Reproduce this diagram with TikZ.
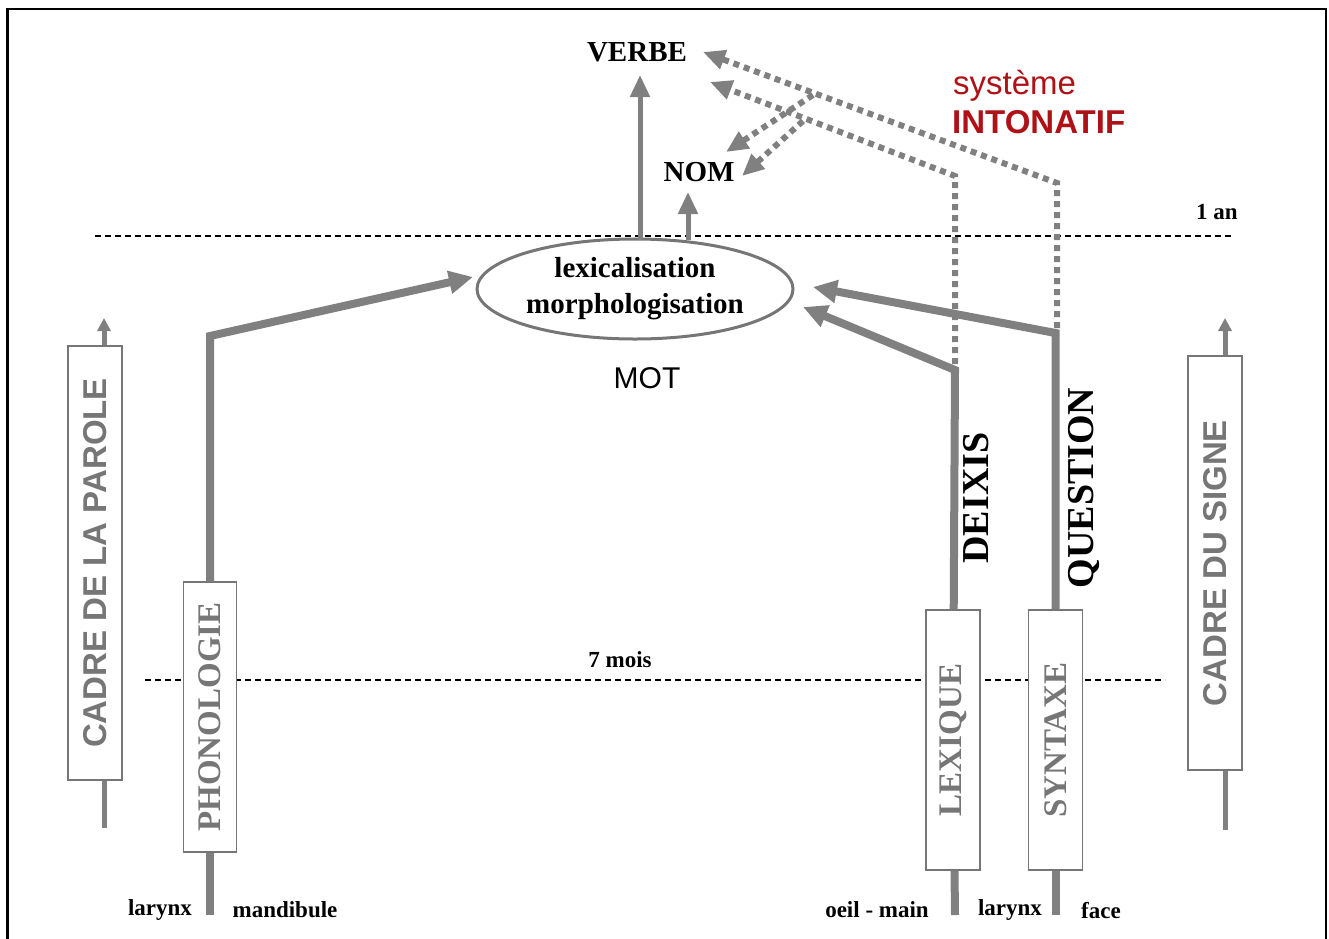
\documentclass[tikz,border=0pt]{standalone}
\usepackage{fontspec}
\setmainfont{Liberation Serif}
\newfontfamily\arialf{Liberation Sans}
\usetikzlibrary{arrows.meta,shapes.geometric,calc}
\definecolor{lgray}{RGB}{128,128,128}
\definecolor{bgray}{RGB}{118,118,118}
\definecolor{intred}{RGB}{175,18,22}
\begin{document}
\begin{tikzpicture}[x=1pt,y=-1pt,
  vbox/.style={draw=bgray, line width=1.5pt, fill=white, rotate=90, inner sep=0pt,
    text=bgray, font=\fontsize{33}{33}\selectfont\bfseries},
  cbox/.style={draw=bgray, line width=1.5pt, fill=white, rotate=90, inner sep=0pt,
    text=bgray, font=\arialf\fontsize{33}{33}\selectfont\bfseries},
  thickln/.style={draw=lgray, line width=8pt},
  thinln/.style={draw=lgray, line width=5pt},
  dotln/.style={draw=lgray, line width=6pt, dash pattern=on 6pt off 5pt},
  bigtip/.style={-{Triangle[length=24pt,width=22pt]}},
  midtip/.style={-{Triangle[length=22pt,width=19pt]}},
  smalltip/.style={-{Triangle[length=13pt,width=13pt]}},
  dashln/.style={draw=black, line width=1.1pt, dash pattern=on 6pt off 4pt},
  lbl/.style={font=\fontsize{23}{23}\selectfont\bfseries, inner sep=0pt},
  bigword/.style={font=\fontsize{29}{29}\selectfont\bfseries, inner sep=0pt},
  sidelbl/.style={rotate=90, anchor=base, inner sep=0pt, font=\fontsize{38}{38}\selectfont\bfseries},
  redtxt/.style={text=intred, anchor=west, inner sep=0pt}
]
\useasboundingbox (0,0) rectangle (1329,938);
\fill[white] (0,0) rectangle (1329,938);
% frame
\draw[line width=2.5pt] (7.5,9) rectangle (1326,970);

% dashed time lines
\coordinate (d1a) at (95,236);  \coordinate (d1b) at (1232,236);
\coordinate (d2a) at (145,680); \coordinate (d2b) at (1165,680);
\draw[dashln] (d1a) -- (d1b);
\draw[dashln] (d2a) -- (d2b);
\node[lbl] (an) at (1217,212) {1 an};
\node[lbl] (mois) at (620,660) {7 mois};

% central ellipse
\node[ellipse, draw=bgray, line width=3pt, fill=white, minimum width=316pt, minimum height=100pt,
  inner sep=0pt, align=center, font=\fontsize{29}{36}\selectfont\bfseries] (mot) at (635,289)
  {lexicalisation\\morphologisation};
\node[font=\arialf\fontsize{30}{30}\selectfont, inner sep=0pt] (motlbl) at (647,378) {MOT};

% top words
\node[bigword] (verbe) at (637,52) {VERBE};
\node[bigword] (nom) at (699,172) {NOM};

\coordinate (vb) at (640,240); \coordinate (vt) at (640,75);
\coordinate (nb) at (688,240); \coordinate (nt) at (688,192);
\draw[thinln, midtip] (vb) -- (vt);
\draw[thinln, midtip] (nb) -- (nt);

% intonatif
\node[redtxt, font=\arialf\fontsize{33}{33}\selectfont] (sys) at (953,86) {système};
\node[redtxt, font=\arialf\fontsize{33}{33}\selectfont\bfseries] (inton) at (952,122) {INTONATIF};

% boxes
\node[vbox, minimum width=270pt, minimum height=53pt] (phon) at (210,717) {PHONOLOGIE};
\node[vbox, minimum width=260pt, minimum height=54pt] (lex) at (953,740) {LEXIQUE};
\node[vbox, minimum width=260pt, minimum height=54pt] (syn) at (1055.5,740) {SYNTAXE};
\node[cbox, minimum width=434pt, minimum height=54pt] (cp) at (95,563) {CADRE DE LA PAROLE};
\node[cbox, minimum width=414pt, minimum height=54pt] (cs) at (1215,563) {CADRE DU SIGNE};

% cadre arrows
\coordinate (cpbot) at (104,828); \coordinate (cptop) at (104,318);
\coordinate (csbot) at (1225,830); \coordinate (cstop) at (1225,318);
\draw[thinln] (cpbot) -- (cpbot |- cp.west);
\draw[thinln, smalltip] (cptop |- cp.east) -- (cptop);
\draw[thinln] (csbot) -- (csbot |- cs.west);
\draw[thinln, smalltip] (cstop |- cs.east) -- (cstop);

% dotted intonation arrows
\coordinate (dAbot) at (955,364); \coordinate (dAtop) at (955,176); \coordinate (vtL) at (710,82);
\coordinate (dBbot) at (1057,328); \coordinate (dBtop) at (1057,183); \coordinate (vtU) at (703,52);
\coordinate (bu) at (813,95); \coordinate (ntU) at (726,152);
\coordinate (bl) at (803,121); \coordinate (ntL) at (742,176);
\draw[dotln, midtip] (dAbot) -- (dAtop) -- (vtL);
\draw[dotln, midtip] (dBbot) -- (dBtop) -- (vtU);
\draw[dotln, midtip] (bu) -- (ntU);
\draw[dotln, midtip] (bl) -- (ntL);

% thick pathways
\coordinate (phbot) at (210,915); \coordinate (phb) at (210,336); \coordinate (pht) at (473,277);
\draw[thickln] (phbot) -- (phon);
\draw[thickln, bigtip] (phon) -- (phb) -- (pht);
\coordinate (lxbot) at (955,915); \coordinate (db) at (955,370); \coordinate (dt) at (803,307);
\draw[thickln] (lxbot) -- (lex);
\draw[thickln, bigtip] (lex) -- (db) -- (dt);
\coordinate (sybot) at (1055.5,915); \coordinate (qb) at (1055.5,333); \coordinate (qt) at (813,287);
\draw[thickln] (sybot) -- (syn);
\draw[thickln, bigtip] (syn) -- (qb) -- (qt);

% side labels
\node[sidelbl] (deix) at (988,498) {DEIXIS};
\node[sidelbl] (quest) at (1093,488) {QUESTION};

% bottom labels
\node[lbl] (lar1) at (160,910) {larynx};
\node[lbl] (mand) at (285,910) {mandibule};
\node[lbl] (oeil) at (877,910) {oeil - main};
\node[lbl] (lar2) at (1010,910) {larynx};
\node[lbl] (face) at (1101,910) {face};
\end{tikzpicture}
\end{document}
